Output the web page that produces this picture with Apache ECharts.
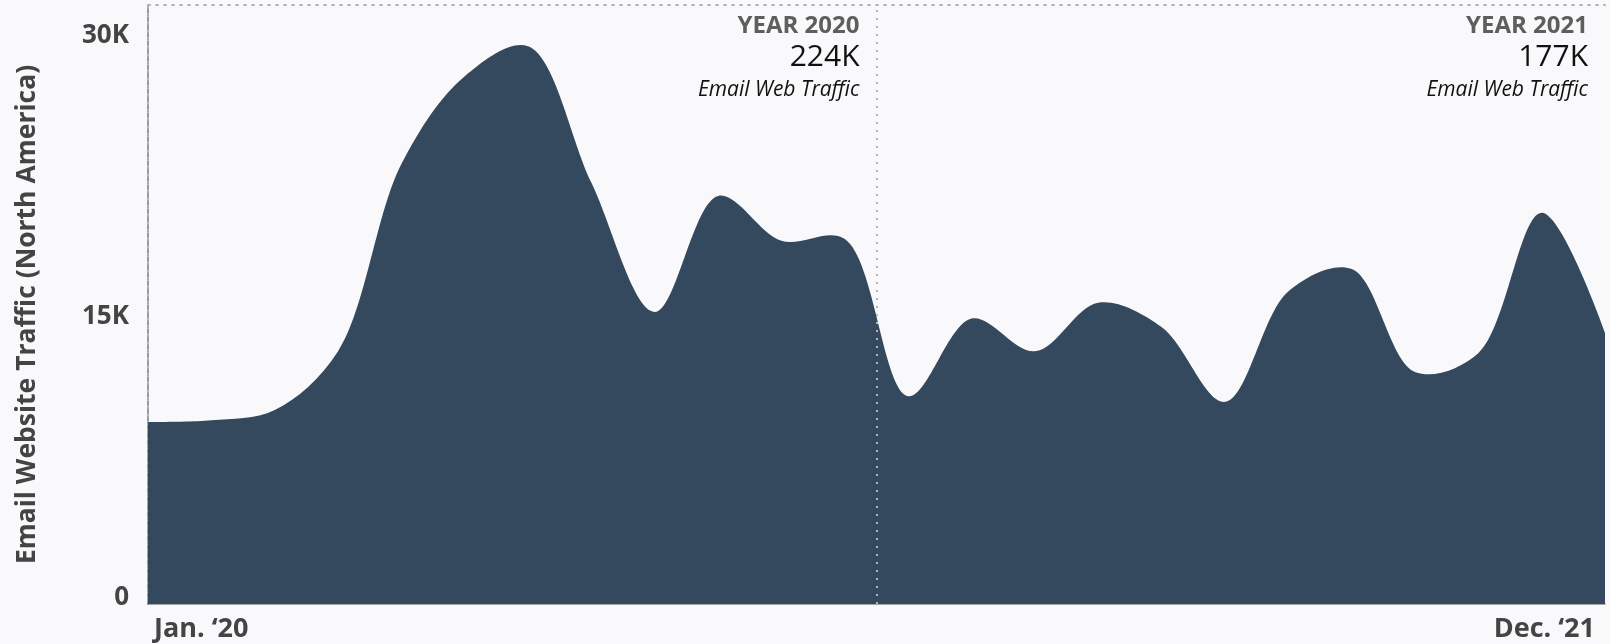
<!DOCTYPE html>
<html>
<head>
<meta charset="utf-8">
<script src="https://cdn.jsdelivr.net/npm/echarts@6/dist/echarts.min.js"></script>
<style>
  html, body { margin: 0; padding: 0; background: #f9f9fb; }
  #chart { width: 1610px; height: 644px; }
</style>
</head>
<body>
<div id="chart"></div>
<script>
// Monthly email website traffic, North America
const months = [
  'Jan. ‘20', 'Feb. ‘20', 'Mar. ‘20', 'Apr. ‘20', 'May ‘20', 'Jun. ‘20',
  'Jul. ‘20', 'Aug. ‘20', 'Sep. ‘20', 'Oct. ‘20', 'Nov. ‘20', 'Dec. ‘20',
  'Jan. ‘21', 'Feb. ‘21', 'Mar. ‘21', 'Apr. ‘21', 'May ‘21', 'Jun. ‘21',
  'Jul. ‘21', 'Aug. ‘21', 'Sep. ‘21', 'Oct. ‘21', 'Nov. ‘21', 'Dec. ‘21'
];
const traffic2020 = [9720, 9810, 10360, 13500, 23500, 28200, 29800, 22500, 15600, 21800, 19400, 19500];
const traffic2021 = [11100, 15250, 13500, 16100, 14800, 10800, 16700, 17900, 12400, 13400, 20900, 14500];
const yTicks = [0, 15000, 30000];
const years = ['YEAR 2020', 'YEAR 2021'];
const annotationCaption = 'Email Web Traffic';

const FONT = "'Open Sans', 'Noto Sans', sans-serif";
const traffic = traffic2020.concat(traffic2021);
const seriesData = traffic.map((v, i) => [i, v]);
const totalK = arr => Math.round(arr.reduce((a, b) => a + b, 0) / 1000) + 'K';
const lastIdx = months.length - 1;

const sparseDots = { color: '#b5b5b9', width: 2, type: [2, 6] };
const denseDots = { color: '#8c8c90', width: 1.5, type: [2, 1] };

// Centripetal Catmull-Rom path (alpha = 0.5) through the given pixel points
function catmullRomPath(pts, alpha) {
  const dist = (p, q) => Math.hypot(p[0] - q[0], p[1] - q[1]);
  let d = '';
  for (let i = 0; i < pts.length - 1; i++) {
    const p0 = pts[i - 1], p1 = pts[i], p2 = pts[i + 1], p3 = pts[i + 2];
    const l12_2a = Math.pow(dist(p1, p2), 2 * alpha), l12_a = Math.sqrt(l12_2a);
    let c1 = p1.slice(), c2 = p2.slice();
    if (p0) {
      const l01_2a = Math.pow(dist(p0, p1), 2 * alpha), l01_a = Math.sqrt(l01_2a);
      const a = 2 * l01_2a + 3 * l01_a * l12_a + l12_2a;
      const n = 3 * l01_a * (l01_a + l12_a);
      c1 = [0, 1].map(k => (p1[k] * a - p0[k] * l12_2a + p2[k] * l01_2a) / n);
    }
    if (p3) {
      const l23_2a = Math.pow(dist(p2, p3), 2 * alpha), l23_a = Math.sqrt(l23_2a);
      const b = 2 * l23_2a + 3 * l23_a * l12_a + l12_2a;
      const m = 3 * l23_a * (l23_a + l12_a);
      c2 = [0, 1].map(k => (p2[k] * b + p1[k] * l23_2a - p3[k] * l12_2a) / m);
    }
    d += `C${c1[0]},${c1[1]},${c2[0]},${c2[1]},${p2[0]},${p2[1]}`;
  }
  return d;
}

// Filled area under the smoothed traffic curve
function renderArea(params, api) {
  if (params.dataIndex !== 0) return null;
  const pts = seriesData.map(d => api.coord(d));
  const base = api.coord([0, 0])[1];
  const first = pts[0], last = pts[pts.length - 1];
  const d = `M${first[0]},${base}L${first[0]},${first[1]}` +
            catmullRomPath(pts, 0.5) +
            `L${last[0]},${base}Z`;
  return {
    type: 'path',
    shape: { pathData: d },
    style: { fill: '#34495e', stroke: null }
  };
}

const chart = echarts.init(document.getElementById('chart'), null, { renderer: 'canvas' });

chart.setOption({
  backgroundColor: '#f9f9fb',
  animation: false,
  grid: { left: 148, right: 5, top: 5, bottom: 40, containLabel: false },
  xAxis: [{
    type: 'value',
    min: 0,
    max: lastIdx,
    position: 'bottom',
    axisLine: { show: true, onZero: false, lineStyle: denseDots },
    axisTick: { show: false },
    splitLine: { show: false },
    axisLabel: {
      customValues: [0, lastIdx],
      formatter: v => months[Math.round(v)],
      alignMinLabel: 'left',
      alignMaxLabel: 'right',
      margin: 12,
      padding: [0, 10, 0, 6],
      color: '#444',
      fontFamily: FONT,
      fontWeight: 'bold',
      fontSize: 27
    }
  }, {
    type: 'value',
    min: 0,
    max: lastIdx,
    position: 'top',
    axisLine: { show: true, onZero: false, lineStyle: sparseDots },
    axisTick: { show: false },
    axisLabel: { show: false },
    splitLine: { show: false }
  }],
  yAxis: [{
    type: 'value',
    min: 0,
    max: 32000,
    position: 'left',
    name: 'Email Website Traffic (North America)',
    nameLocation: 'middle',
    nameGap: 107,
    nameTextStyle: {
      color: '#444', fontFamily: FONT, fontWeight: 'bold', fontSize: 26.5,
      padding: [0, 20, 0, 0]
    },
    axisLine: { show: true, lineStyle: sparseDots },
    axisTick: { show: false },
    splitLine: { show: false },
    axisLabel: {
      customValues: yTicks,
      formatter: v => v === 0 ? '0' : (v / 1000) + 'K',
      margin: 19,
      color: '#444',
      fontFamily: FONT,
      fontWeight: 'bold',
      fontSize: 26,
      verticalAlign: 'bottom',
      lineHeight: 13
    }
  }, {
    type: 'value',
    min: 0,
    max: 32000,
    position: 'right',
    axisLine: { show: true, lineStyle: denseDots },
    axisTick: { show: false },
    axisLabel: { show: false },
    splitLine: { show: false }
  }],
  series: [{
    type: 'custom',
    coordinateSystem: 'cartesian2d',
    data: seriesData,
    encode: { x: 0, y: 1 },
    renderItem: renderArea,
    silent: true,
    markLine: {
      silent: true,
      symbol: 'none',
      label: { show: false },
      lineStyle: { color: '#b5b5b9', width: 2, type: [2, 6] },
      data: [{ xAxis: 11.5 }],
      z: 10
    }
  }]
});

// Yearly totals, placed to the left of each year's right boundary
function drawAnnotations() {
  const split = chart.convertToPixel({ xAxisIndex: 0 }, 11.5);
  const end = chart.convertToPixel({ xAxisIndex: 0 }, lastIdx);
  const top = chart.convertToPixel({ yAxisIndex: 0 }, 32000);
  const blocks = [
    { x: split - 17, year: years[0], total: totalK(traffic2020) },
    { x: end - 17, year: years[1], total: totalK(traffic2021) }
  ];
  const elements = [];
  blocks.forEach(b => {
    elements.push({
      type: 'text', x: b.x, y: top + 21,
      style: { text: b.year, textAlign: 'right', textVerticalAlign: 'middle',
               font: `bold 24px ${FONT}`, fill: '#5e5e5e' }
    });
    elements.push({
      type: 'text', x: b.x, y: top + 52,
      style: { text: b.total, textAlign: 'right', textVerticalAlign: 'middle',
               font: `30px ${FONT}`, fill: '#111' }
    });
    elements.push({
      type: 'text', x: b.x, y: top + 85,
      style: { text: annotationCaption, textAlign: 'right', textVerticalAlign: 'middle',
               font: `italic 21px ${FONT}`, fill: '#111' }
    });
  });
  chart.setOption({ graphic: elements });
}
drawAnnotations();
</script>
</body>
</html>
